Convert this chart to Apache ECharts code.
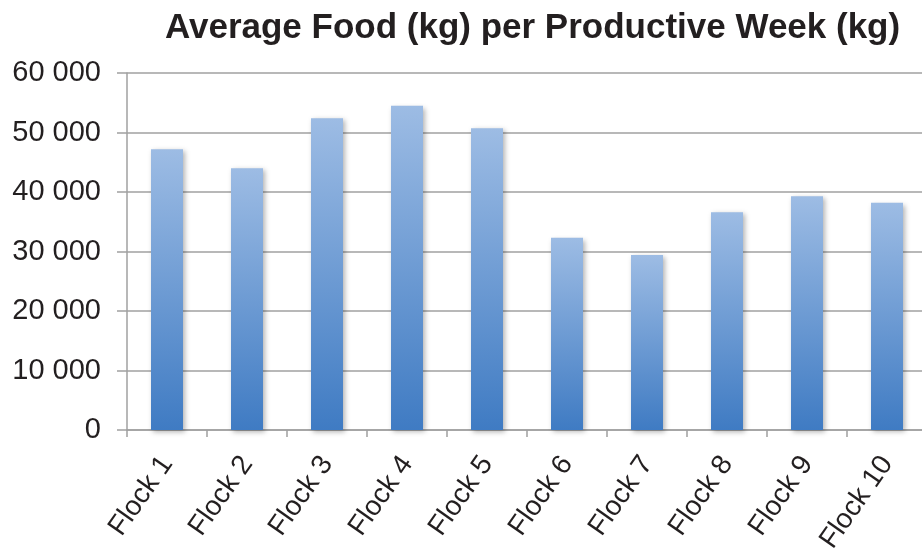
<!DOCTYPE html>
<html>
<head>
<meta charset="utf-8">
<script src="https://cdn.jsdelivr.net/npm/echarts@6/dist/echarts.min.js"></script>
<style>html,body{margin:0;padding:0;background:#fff}#c{width:922px;height:550px}</style>
</head>
<body>
<div id="c"></div>
<script>
const titleText = "Average Food (kg) per Productive Week (kg)";
const categories = ["Flock 1","Flock 2","Flock 3","Flock 4","Flock 5","Flock 6","Flock 7","Flock 8","Flock 9","Flock 10"];
const values = [47200, 44000, 52400, 54500, 50700, 32300, 29400, 36600, 39300, 38200];
const yTicks = [0, 10000, 20000, 30000, 40000, 50000, 60000];

const chart = echarts.init(document.getElementById('c'), null, {renderer: 'canvas'});
const font = "'Liberation Sans', Arial, sans-serif";
chart.setOption({
  animation: false,
  backgroundColor: '#ffffff',
  title: {
    text: titleText,
    left: 160, top: 6,
    textStyle: {fontFamily: font, fontWeight: 'bold', fontSize: 35, color: '#231f20'}
  },
  grid: {left: 127, width: 800, top: 73, height: 357, containLabel: false, outerBoundsMode: 'none'},
  xAxis: {
    type: 'category',
    data: categories,
    boundaryGap: true,
    axisLine: {show: true, lineStyle: {color: '#a0a0a0', width: 1.5}},
    axisTick: {show: true, length: 7, alignWithLabel: false, lineStyle: {color: '#a0a0a0', width: 1.5}},
    axisLabel: {rotate: 55, margin: 29, fontFamily: font, fontSize: 28, color: '#231f20', interval: 0}
  },
  yAxis: {
    type: 'value',
    min: yTicks[0], max: yTicks[yTicks.length - 1], interval: yTicks[1] - yTicks[0],
    axisLine: {show: true, lineStyle: {color: '#a0a0a0', width: 1.5}},
    axisTick: {show: true, length: 10, lineStyle: {color: '#a0a0a0', width: 1.5}},
    splitLine: {show: true, lineStyle: {color: '#a0a0a0', width: 1.5}},
    axisLabel: {
      margin: 26, fontFamily: font, fontSize: 29, color: '#231f20',
      formatter: v => String(v).replace(/\B(?=(\d{3})+(?!\d))/g, ' ')
    }
  },
  series: [{
    type: 'bar',
    data: values,
    barWidth: '40%',
    itemStyle: {
      color: new echarts.graphic.LinearGradient(0, 0, 0, 1, [
        {offset: 0, color: '#9dbce4'},
        {offset: 1, color: '#3f7bc3'}
      ]),
      shadowColor: 'rgba(0,0,0,0.3)', shadowBlur: 5, shadowOffsetX: 2, shadowOffsetY: 2
    }
  }]
});
</script>
</body>
</html>
